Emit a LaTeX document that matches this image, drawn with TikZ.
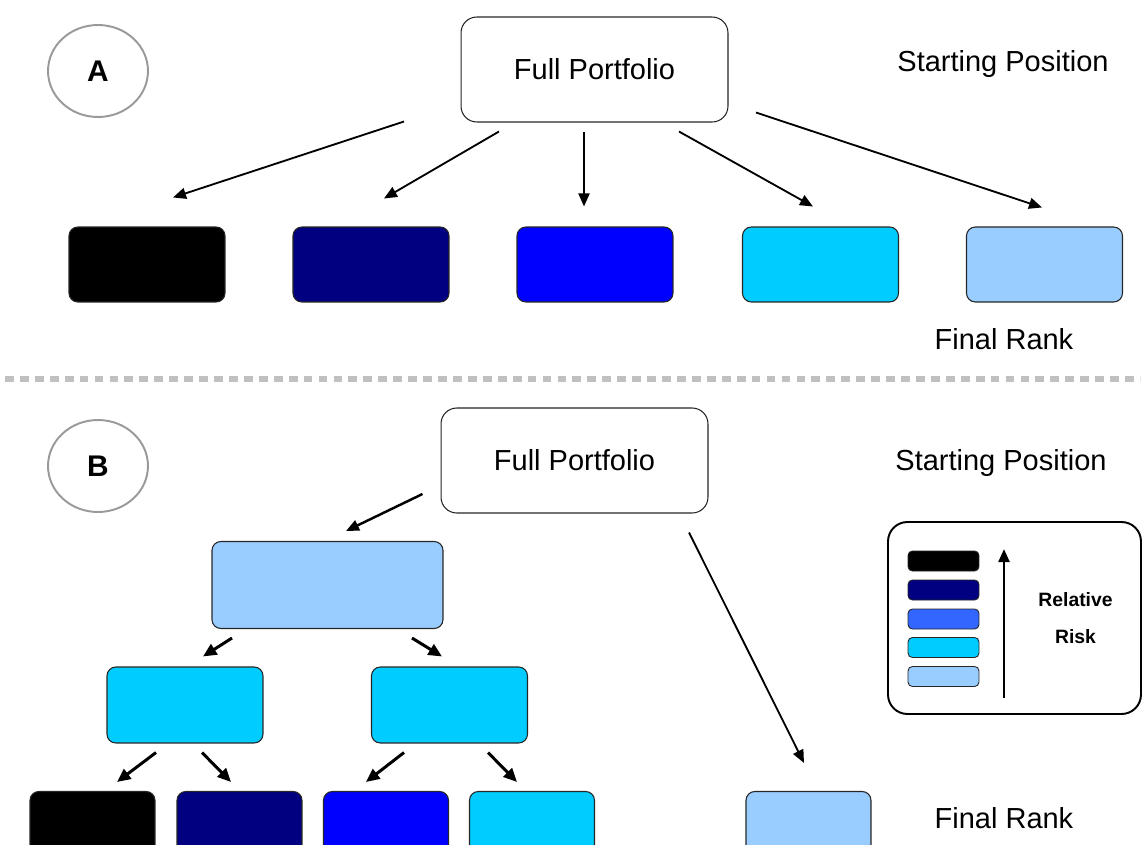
\documentclass[tikz,border=0pt]{standalone}
\usepackage{fontspec}
\setmainfont{Liberation Sans}
\usetikzlibrary{arrows.meta,shapes.geometric}

\definecolor{rnavy}{HTML}{000080}
\definecolor{rblue}{HTML}{0000FF}
\definecolor{rmidblue}{HTML}{3366FF}
\definecolor{rcyan}{HTML}{00CCFF}
\definecolor{rlight}{HTML}{99CCFF}
\definecolor{rgrey}{HTML}{999999}
\definecolor{rdash}{HTML}{C0C0C0}

\tikzset{
  bigbox/.style={draw=black!85, line width=0.6pt, rounded corners=9pt, fill=white,
    minimum width=5.34cm, minimum height=2.1cm, inner sep=0pt,
    font=\fontsize{16.5}{20}\selectfont},
  rankbox/.style={draw=black!85, line width=0.6pt, rounded corners=5pt, inner sep=0pt,
    minimum width=3.12cm, minimum height=1.5cm},
  keybox/.style={draw=black!85, line width=0.5pt, rounded corners=2.5pt, inner sep=0pt,
    minimum width=1.42cm, minimum height=0.4cm},
  tag/.style={ellipse, draw=rgrey, line width=1.1pt, minimum width=2cm, minimum height=1.84cm,
    font=\bfseries\fontsize{17}{20}\selectfont},
  caption/.style={font=\fontsize{16.5}{20}\selectfont},
  arr/.style={-{Triangle[length=2.6mm,width=2.2mm]}, line width=1.05pt},
  fatarr/.style={-{Triangle[length=2.7mm,width=2.4mm]}, line width=1.7pt}
}

\begin{document}
\begin{tikzpicture}[x=0.02cm, y=-0.02cm]
  \useasboundingbox (0,0) rectangle (1144,845);
  \clip (0,0) rectangle (1144,845);

  % part A
  \node[tag] (tagA) at (98,71) {A};
  \node[bigbox] (fpA) at (594.5,69.5) {Full Portfolio};
  \node[caption] (startA) at (1003,64) {Starting Position};
  \node[rankbox, fill=black] (rA1) at (147,264.5) {};
  \node[rankbox, fill=rnavy] (rA2) at (371,264.5) {};
  \node[rankbox, fill=rblue] (rA3) at (595,264.5) {};
  \node[rankbox, fill=rcyan] (rA4) at (820.5,264.5) {};
  \node[rankbox, fill=rlight] (rA5) at (1044.5,264.5) {};
  \node[caption] (finalA) at (1004,339) {Final Rank};

  \draw[arr] ([shift={(-190.5,-1)}]fpA.south) -- ([shift={(26,-29)}]rA1.north);
  \draw[arr] ([shift={(-95.5,9)}]fpA.south) -- ([shift={(13,-28)}]rA2.north);
  \draw[arr] ([shift={(-10.5,9)}]fpA.south) -- ([shift={(-11,-20)}]rA3.north);
  \draw[arr] ([shift={(84.5,9)}]fpA.south) -- ([shift={(-7.5,-20)}]rA4.north);
  \draw[arr] ([shift={(161.5,-10)}]fpA.south) -- ([shift={(-2.5,-19)}]rA5.north);

  \draw[rdash, line width=3pt, dash pattern=on 5pt off 3.5pt] (5,379) -- (1140,379);

  % part B
  \node[tag] (tagB) at (98,466) {B};
  \node[bigbox] (fpB) at (574.5,460.5) {Full Portfolio};
  \node[caption] (startB) at (1001,463) {Starting Position};
  \node[rankbox, fill=rlight, minimum width=4.62cm, minimum height=1.74cm] (tB) at (327.5,585) {};
  \node[rankbox, fill=rcyan, minimum height=1.52cm] (mL) at (185,705) {};
  \node[rankbox, fill=rcyan, minimum height=1.52cm] (mR) at (449.5,705) {};
  \node[rankbox, fill=black, minimum width=2.5cm] (b1) at (92.5,829) {};
  \node[rankbox, fill=rnavy, minimum width=2.5cm] (b2) at (239.5,829) {};
  \node[rankbox, fill=rblue, minimum width=2.5cm] (b3) at (386,829) {};
  \node[rankbox, fill=rcyan, minimum width=2.5cm] (b4) at (532,829) {};
  \node[rankbox, fill=rlight, minimum width=2.5cm] (fB) at (808.5,829) {};
  \node[caption] (finalB) at (1004,818) {Final Rank};

  \draw[arr, line width=1.4pt] ([shift={(-18,33.5)}]fpB.west) -- ([shift={(18.5,-10)}]tB.north);
  \draw[arr] ([shift={(114.5,19)}]fpB.south) -- ([shift={(-4.5,-28)}]fB.north);
  \draw[fatarr] ([shift={(-95.5,9)}]tB.south) -- ([shift={(18,-10)}]mL.north);
  \draw[fatarr] ([shift={(84.5,9)}]tB.south) -- ([shift={(-7.5,-10)}]mR.north);
  \draw[fatarr] ([shift={(-29,9)}]mL.south) -- ([shift={(24.5,-9)}]b1.north);
  \draw[fatarr] ([shift={(17,9)}]mL.south) -- ([shift={(-8.5,-9)}]b2.north);
  \draw[fatarr] ([shift={(-45.5,9)}]mR.south) -- ([shift={(-20,-9)}]b3.north);
  \draw[fatarr] ([shift={(38.5,9)}]mR.south) -- ([shift={(-15,-9)}]b4.north);

  % key
  \node[draw, line width=1.1pt, rounded corners=11pt, minimum width=5.06cm, minimum height=3.84cm] (key) at (1014.5,618) {};
  \node[keybox, fill=black] (k1) at (943.5,561) {};
  \node[keybox, fill=rnavy] (k2) at (943.5,590) {};
  \node[keybox, fill=rmidblue] (k3) at (943.5,619) {};
  \node[keybox, fill=rcyan] (k4) at (943.5,647.5) {};
  \node[keybox, fill=rlight] (k5) at (943.5,676.5) {};
  \draw[arr, line width=1.4pt] ([shift={(-10.5,-17)}]key.south) -- ([shift={(-10.5,28)}]key.north);
  \node[align=center, font=\bfseries\fontsize{11}{21}\selectfont] (risk) at (1075.5,618.5) {Relative\\Risk};
\end{tikzpicture}
\end{document}
